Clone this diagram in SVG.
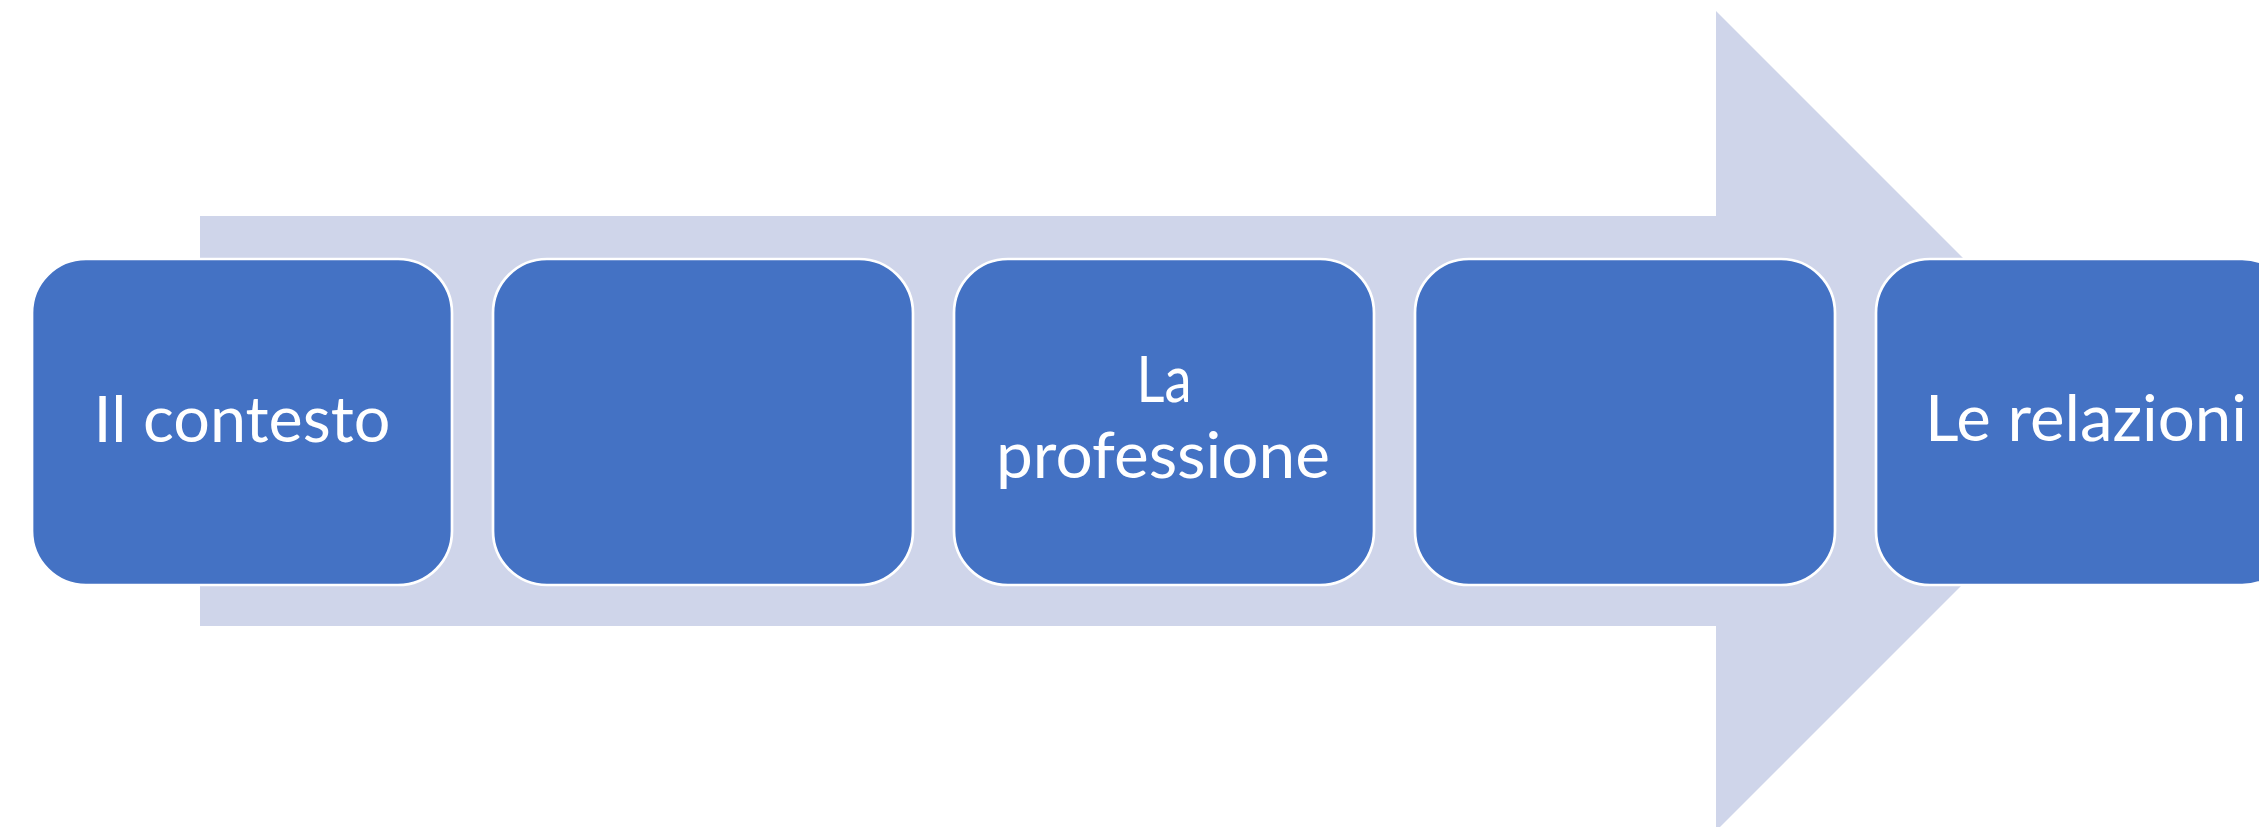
<svg xmlns="http://www.w3.org/2000/svg" width="2259" height="827" viewBox="0 0 2259 827">
<style>
.bg{fill:#ffffff}
.arrow{fill:#CFD5EA}
.box{fill:#4472C4;stroke:#ffffff;stroke-width:2.7}
.lbl{fill:#ffffff;font-family:Lato,"Liberation Sans",sans-serif;font-size:64px;text-anchor:middle}
</style>
<rect class="bg" x="0" y="0" width="2259" height="827"/>
<g id="arrow">
<polygon class="arrow" points="200,216 1716,216 1716,11 2126,421 1716,831 1716,626 200,626"/>
</g>
<g id="connectors"></g>
<g id="node1">
<rect class="box" x="32" y="259" width="420" height="326" rx="54" ry="54"/>
<text class="lbl" x="242" y="442" textLength="297" lengthAdjust="spacingAndGlyphs">Il contesto</text>
</g>
<g id="node2">
<rect class="box" x="493" y="259" width="420" height="326" rx="54" ry="54"/>
</g>
<g id="node3">
<rect class="box" x="954" y="259" width="420" height="326" rx="54" ry="54"/>
<text class="lbl" x="1164" y="402" textLength="55" lengthAdjust="spacingAndGlyphs">La</text>
<text class="lbl" x="1163" y="478" textLength="334" lengthAdjust="spacingAndGlyphs">professione</text>
</g>
<g id="node4">
<rect class="box" x="1415" y="259" width="420" height="326" rx="54" ry="54"/>
</g>
<g id="node5">
<rect class="box" x="1876" y="259" width="420" height="326" rx="54" ry="54"/>
<text class="lbl" x="2086" y="441" textLength="322" lengthAdjust="spacingAndGlyphs">Le relazioni</text>
</g>
</svg>
